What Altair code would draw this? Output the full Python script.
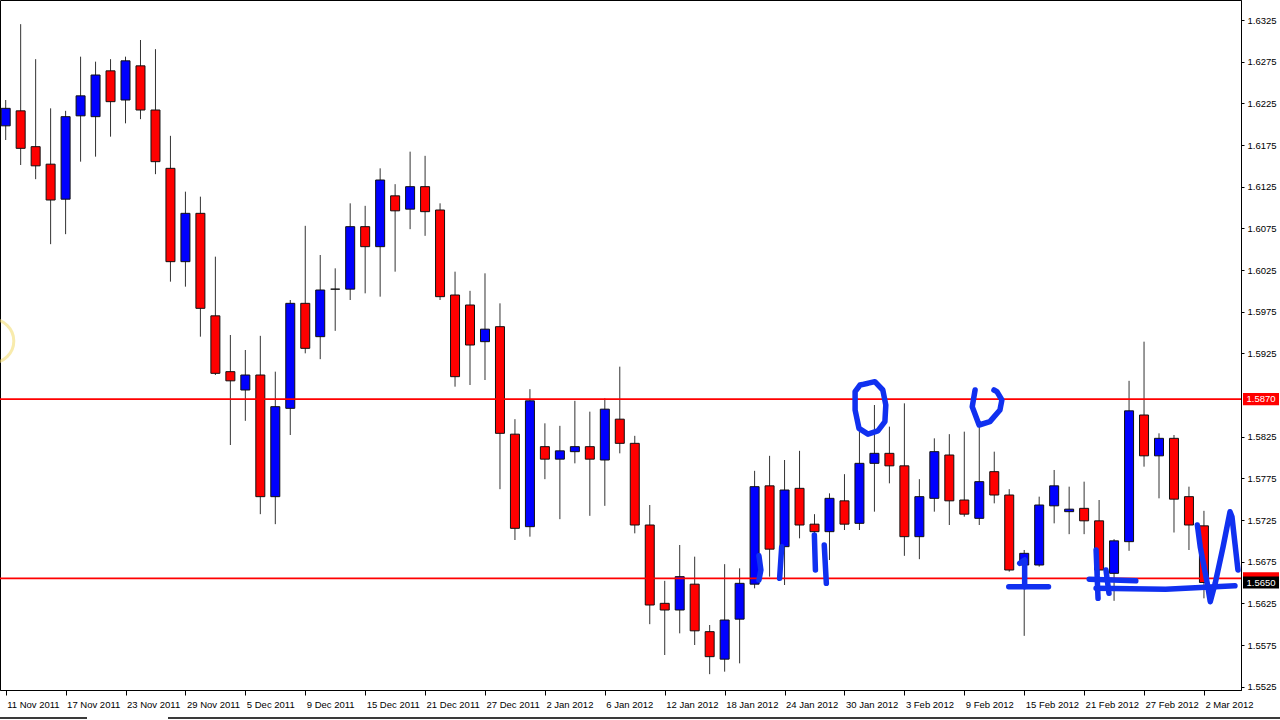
import json
import altair as alt
import pandas as pd

# Daily bars, one per trading day from 11 Nov 2011 to 2 Mar 2012 (bar index 0..80)
opens = [1.6198, 1.6216, 1.6173, 1.6152, 1.6110, 1.6210, 1.6209, 1.6264, 1.6229, 1.6270,
         1.6217, 1.6147, 1.6035, 1.6093, 1.5970, 1.5903, 1.5881, 1.5899, 1.5753, 1.5859,
         1.5985, 1.5945, 1.6002, 1.6002, 1.6077, 1.6053, 1.6114, 1.6098, 1.6125, 1.6097,
         1.5995, 1.5983, 1.5939, 1.5957, 1.5828, 1.5717, 1.5813, 1.5798, 1.5807, 1.5813,
         1.5797, 1.5846, 1.5817, 1.5719, 1.5625, 1.5617, 1.5648, 1.5591, 1.5558, 1.5606,
         1.5648, 1.5766, 1.5693, 1.5763, 1.5720, 1.5711, 1.5748, 1.5721, 1.5793, 1.5805,
         1.5790, 1.5705, 1.5751, 1.5803, 1.5749, 1.5727, 1.5783, 1.5755, 1.5671, 1.5671,
         1.5742, 1.5735, 1.5739, 1.5724, 1.5661, 1.5699, 1.5851, 1.5802, 1.5823, 1.5753,
         1.5718]
highs = [1.6229, 1.6320, 1.6278, 1.6219, 1.6216, 1.6281, 1.6275, 1.6278, 1.6281, 1.6301,
         1.6290, 1.6186, 1.6119, 1.6113, 1.6041, 1.5947, 1.5929, 1.5946, 1.5903, 1.5989,
         1.6078, 1.6043, 1.6027, 1.6105, 1.6102, 1.6147, 1.6128, 1.6167, 1.6162, 1.6105,
         1.6023, 1.6000, 1.6021, 1.5985, 1.5846, 1.5882, 1.5841, 1.5838, 1.5868, 1.5855,
         1.5871, 1.5909, 1.5826, 1.5743, 1.5652, 1.5695, 1.5681, 1.5599, 1.5672, 1.5667,
         1.5784, 1.5802, 1.5797, 1.5808, 1.5732, 1.5757, 1.5780, 1.5835, 1.5863, 1.5837,
         1.5865, 1.5774, 1.5823, 1.5828, 1.5831, 1.5845, 1.5807, 1.5762, 1.5689, 1.5753,
         1.5785, 1.5765, 1.5771, 1.5749, 1.5702, 1.5892, 1.5939, 1.5829, 1.5827, 1.5765,
         1.5736]
lows = [1.6181, 1.6151, 1.6134, 1.6056, 1.6068, 1.6155, 1.6161, 1.6185, 1.6201, 1.6206,
        1.6140, 1.6011, 1.6005, 1.5945, 1.5899, 1.5815, 1.5844, 1.5732, 1.5720, 1.5827,
        1.5925, 1.5918, 1.5952, 1.5989, 1.5997, 1.5993, 1.6023, 1.6074, 1.6066, 1.5989,
        1.5885, 1.5887, 1.5893, 1.5762, 1.5701, 1.5705, 1.5774, 1.5726, 1.5793, 1.5730,
        1.5742, 1.5805, 1.5709, 1.5600, 1.5563, 1.5589, 1.5575, 1.5540, 1.5543, 1.5553,
        1.5643, 1.5657, 1.5647, 1.5703, 1.5691, 1.5677, 1.5713, 1.5713, 1.5735, 1.5769,
        1.5682, 1.5678, 1.5735, 1.5719, 1.5729, 1.5719, 1.5745, 1.5663, 1.5586, 1.5669,
        1.5721, 1.5708, 1.5708, 1.5659, 1.5628, 1.5688, 1.5789, 1.5751, 1.5710, 1.5689,
        1.5631]
closes = [1.6219, 1.6171, 1.6150, 1.6109, 1.6209, 1.6234, 1.6259, 1.6227, 1.6276, 1.6217,
          1.6155, 1.6035, 1.6093, 1.5979, 1.5901, 1.5892, 1.5899, 1.5753, 1.5861, 1.5985,
          1.5931, 1.6001, 1.6002, 1.6077, 1.6053, 1.6133, 1.6096, 1.6125, 1.6095, 1.5993,
          1.5897, 1.5935, 1.5954, 1.5829, 1.5715, 1.5868, 1.5798, 1.5808, 1.5813, 1.5798,
          1.5858, 1.5817, 1.5719, 1.5623, 1.5617, 1.5657, 1.5592, 1.5561, 1.5605, 1.5649,
          1.5765, 1.5690, 1.5761, 1.5719, 1.5711, 1.5751, 1.5720, 1.5793, 1.5805, 1.5790,
          1.5705, 1.5753, 1.5807, 1.5748, 1.5732, 1.5771, 1.5755, 1.5665, 1.5685, 1.5743,
          1.5766, 1.5738, 1.5724, 1.5665, 1.5700, 1.5856, 1.5802, 1.5823, 1.5750, 1.5719,
          1.5650]

# Time-axis labels, one every 4 bars
date_labels = ["11 Nov 2011", "17 Nov 2011", "23 Nov 2011", "29 Nov 2011", "5 Dec 2011",
               "9 Dec 2011", "15 Dec 2011", "21 Dec 2011", "27 Dec 2011", "2 Jan 2012",
               "6 Jan 2012", "12 Jan 2012", "18 Jan 2012", "24 Jan 2012", "30 Jan 2012",
               "3 Feb 2012", "9 Feb 2012", "15 Feb 2012", "21 Feb 2012", "27 Feb 2012",
               "2 Mar 2012"]
date_ticks = [0, 4, 8, 12, 16, 20, 24, 28, 32, 36, 40, 44, 48, 52, 56, 60, 64, 68, 72, 76, 80]

# Price scale labels (1.5875 sits under the level tag and is left out)
price_ticks = [1.5525, 1.5575, 1.5625, 1.5675, 1.5725, 1.5775, 1.5825, 1.5925,
               1.5975, 1.6025, 1.6075, 1.6125, 1.6175, 1.6225, 1.6275, 1.6325]

# Horizontal levels and the current bid
level_prices = [1.5870, 1.5655]
level_tag_text = ["1.5870", ""]
bid_price = 1.5650

# Hand-drawn marker strokes: (bar index, price)
strokes = {
    "circle_30jan": [(57.30, 1.5888), (58.03, 1.5891), (58.56, 1.5881), (58.76, 1.5863),
                     (58.70, 1.5843), (58.23, 1.5832), (57.57, 1.5828), (56.97, 1.5835),
                     (56.71, 1.5857), (56.71, 1.5879), (57.04, 1.5887), (57.57, 1.5889)],
    "u_9feb": [(64.72, 1.5881), (64.53, 1.5861), (64.99, 1.5839), (65.71, 1.5843),
               (66.38, 1.5857), (66.51, 1.5869), (66.18, 1.5879), (65.98, 1.5881)],
    "tick_a": [(50.29, 1.5682), (50.42, 1.5665), (50.29, 1.5653)],
    "tick_b": [(51.81, 1.5693), (51.67, 1.5655)],
    "tick_c": [(53.99, 1.5707), (54.06, 1.5665)],
    "tick_d": [(54.65, 1.5695), (54.79, 1.5649)],
    "i_stem": [(67.70, 1.5673), (68.03, 1.5677), (68.03, 1.5645)],
    "i_base": [(66.97, 1.5645), (69.62, 1.5645)],
    "stem_a": [(72.80, 1.5689), (72.93, 1.5631)],
    "stem_b": [(73.46, 1.5665), (73.66, 1.5637)],
    "base_upper": [(72.34, 1.5654), (75.45, 1.5652)],
    "base_lower": [(72.80, 1.5643), (77.44, 1.5642), (82.07, 1.5646)],
    "v_mark": [(79.56, 1.5719), (79.75, 1.5693), (80.22, 1.5649), (80.42, 1.5627),
               (80.75, 1.5649), (81.28, 1.5693), (81.74, 1.5735), (81.87, 1.5729),
               (82.07, 1.5697), (82.27, 1.5665)],
}

FONT = "Liberation Sans"
UP, DOWN = "#0000ff", "#ff0000"

bars = pd.DataFrame({"bar": list(range(len(opens))), "open": opens, "high": highs,
                     "low": lows, "close": closes})
bars["dir"] = ["up" if c > o else "down" for o, c in zip(opens, closes)]

rows = []
for name, pts in strokes.items():
    for i, (b, p) in enumerate(pts):
        rows.append({"stroke": name, "seq": i, "bar": b, "price": p})
ink = pd.DataFrame(rows)

levels = pd.DataFrame({"price": level_prices, "label": level_tag_text})
bid = pd.DataFrame({"price": [bid_price], "label": [f"{bid_price:.4f}"]})

x_scale = alt.Scale(domain=[-0.046, 82.14], nice=False, zero=False)
y_scale = alt.Scale(domain=[1.5521, 1.6349], nice=False, zero=False)

label_expr = json.dumps(date_labels) + "[round(datum.value / 4)]"
x_axis = alt.Axis(values=date_ticks, labelExpr=label_expr, labelAlign="left",
                  labelOffset=1, labelFont=FONT, labelFontSize=9.5, labelColor="#000",
                  labelPadding=4, labelFlush=False, labelOverlap=False, tickSize=5,
                  tickColor="#000", domainColor="#000", grid=False, title=None)
y_axis = alt.Axis(orient="right", values=price_ticks, format=".4f", labelAlign="left",
                  labelBaseline="middle", labelFont=FONT, labelFontSize=9.5,
                  labelColor="#000", labelPadding=3, labelOverlap=False,
                  labelFlush=False, tickSize=3, tickColor="#000", domainColor="#000",
                  grid=False, title=None)

X = alt.X("bar:Q", scale=x_scale, axis=x_axis)
Y_low = alt.Y("low:Q", scale=y_scale, axis=y_axis)

wicks = alt.Chart(bars).mark_rule(color="#333333", strokeWidth=1).encode(
    x=X, y=Y_low, y2="high:Q")

bodies = alt.Chart(bars).mark_bar(size=9, stroke="#111111", strokeWidth=1).encode(
    x="bar:Q",
    y=alt.Y("open:Q", scale=y_scale),
    y2="close:Q",
    color=alt.Color("dir:N", scale=alt.Scale(domain=["up", "down"], range=[UP, DOWN]),
                    legend=None),
)

level_lines = alt.Chart(levels).mark_rule(color="#ff0000", strokeWidth=1.8).encode(
    y=alt.Y("price:Q", scale=y_scale))

ink_lines = alt.Chart(ink).mark_line(color="#1030f0", strokeWidth=5.5, strokeCap="round",
                                     strokeJoin="round", clip=True).encode(
    x="bar:Q", y=alt.Y("price:Q", scale=y_scale), detail="stroke:N", order="seq:Q")

# Faint cursor highlight ring on the left edge
cursor_ring = alt.Chart(pd.DataFrame({"k": [0]})).mark_point(
    shape="circle", size=1900, filled=False, stroke="#f3dc6a", strokeWidth=3,
    opacity=0.55, clip=False).encode(x=alt.value(-8), y=alt.value(341))

# Window frame under the time scale, with the open tab gap
frame = alt.Chart(pd.DataFrame({"k": [0, 1]})).mark_rule(
    color="#3a3a3a", strokeWidth=2, clip=False).encode(
    x=alt.value(0), x2=alt.value(87), y=alt.value(718))
frame_right = alt.Chart(pd.DataFrame({"k": [0]})).mark_rule(
    color="#3a3a3a", strokeWidth=2, clip=False).encode(
    x=alt.value(168), x2=alt.value(1280), y=alt.value(718))

TAG = "M-1,-0.34H1V0.34H-1Z"


def price_tag(df, fill):
    box = alt.Chart(df).mark_point(shape=TAG, size=1296, filled=True, opacity=1,
                                   strokeWidth=0, color=fill, clip=False).encode(
        x=alt.value(1261), y=alt.Y("price:Q", scale=y_scale))
    txt = alt.Chart(df).mark_text(color="#ffffff", font=FONT, fontSize=9.5,
                                  align="center", baseline="middle", clip=False).encode(
        x=alt.value(1261), y=alt.Y("price:Q", scale=y_scale), text="label:N")
    return box + txt


chart = alt.layer(
    cursor_ring, wicks, bodies, level_lines, ink_lines, price_tag(levels, "#ff0000"),
    price_tag(bid, "#000000"), frame, frame_right,
).properties(
    width=1241, height=690, autosize="none",
    padding={"left": 0, "top": 0, "right": 39, "bottom": 30},
    background="#ffffff",
).configure_view(stroke="#000000", strokeWidth=1)

chart.save("out.html", embed_options={"renderer": "svg", "actions": False})
